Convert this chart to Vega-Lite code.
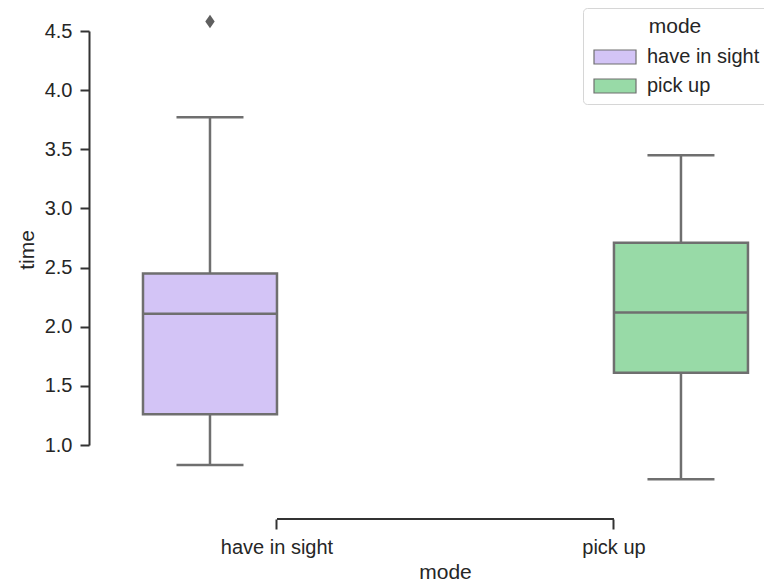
{
  "$schema": "https://vega.github.io/schema/vega-lite/v6.json",
  "autosize": {"type": "none"},
  "padding": {"left": 89, "top": 0, "right": 0, "bottom": 67},
  "width": 675,
  "height": 519,
  "background": "white",
  "config": {
    "font": "Liberation Sans",
    "view": {"stroke": null},
    "axis": {
      "labelFont": "Liberation Sans",
      "titleFont": "Liberation Sans",
      "labelColor": "#262626",
      "titleColor": "#262626",
      "domainColor": "#333333",
      "tickColor": "#333333",
      "domainWidth": 2,
      "tickWidth": 2,
      "grid": false,
      "labelFontSize": 20,
      "titleFontSize": 21,
      "titleFontWeight": "normal"
    },
    "legend": {
      "orient": "none",
      "legendX": 494,
      "legendY": 8,
      "padding": 8,
      "strokeColor": "#d6d6d6",
      "cornerRadius": 4,
      "fillColor": "rgba(255,255,255,0.85)",
      "titleFont": "Liberation Sans",
      "labelFont": "Liberation Sans",
      "titleFontSize": 21,
      "titleFontWeight": "normal",
      "titleColor": "#262626",
      "labelColor": "#262626",
      "labelFontSize": 20,
      "titleAnchor": "middle",
      "titlePadding": 10,
      "rowPadding": 9,
      "symbolType": "M-1,-1H5V1H-1Z",
      "symbolSize": 196,
      "symbolStrokeColor": "#6f6f6f",
      "symbolStrokeWidth": 1.2,
      "symbolOpacity": 1,
      "labelOffset": 36
    }
  },
  "datasets": {
    "boxes": [
      {"mode": "have in sight", "lower": 0.83, "q1": 1.26, "median": 2.11, "q3": 2.45, "upper": 3.77},
      {"mode": "pick up", "lower": 0.71, "q1": 1.61, "median": 2.12, "q3": 2.71, "upper": 3.45}
    ],
    "fliers": [
      {"mode": "have in sight", "time": 4.58}
    ],
    "categories": [
      {"mode": "have in sight"},
      {"mode": "pick up"}
    ]
  },
  "layer": [
    {
      "data": {"name": "boxes"},
      "mark": {"type": "rule", "color": "#6f6f6f", "strokeWidth": 2.5},
      "encoding": {
        "x": {
          "field": "mode",
          "type": "nominal",
          "title": "mode",
          "scale": {"domain": ["have in sight", "pick up"], "paddingInner": 0.2047, "paddingOuter": 0.1039, "align": 0.771},
          "axis": {
            "domain": false,
            "labelAngle": 0,
            "tickSize": 10,
            "labelPadding": 8,
            "titleX": 356,
            "titleY": 59,
            "titleBaseline": "alphabetic",
            "titleAlign": "center",
            "titleAnchor": null
          }
        },
        "xOffset": {"field": "mode", "type": "nominal", "scale": {"domain": ["have in sight", "pick up"], "paddingInner": 0, "paddingOuter": 0}},
        "y": {
          "field": "lower",
          "type": "quantitative",
          "title": "time",
          "scale": {"domain": [1, 4.5], "range": [445, 31], "nice": false, "zero": false},
          "axis": {
            "values": [1, 1.5, 2, 2.5, 3, 3.5, 4, 4.5],
            "format": ".1f",
            "tickSize": 9,
            "labelPadding": 8,
            "titleAngle": -90,
            "titleX": -56,
            "titleY": 249.5,
            "titleBaseline": "alphabetic",
            "titleAlign": "center",
            "titleAnchor": null
          }
        },
        "y2": {"field": "q1", "title": "time"}
      }
    },
    {
      "data": {"name": "boxes"},
      "mark": {"type": "rule", "color": "#6f6f6f", "strokeWidth": 2.5},
      "encoding": {
        "x": {"field": "mode", "type": "nominal", "title": "mode"},
        "xOffset": {"field": "mode", "type": "nominal"},
        "y": {"field": "q3", "type": "quantitative", "title": "time"},
        "y2": {"field": "upper", "title": "time"}
      }
    },
    {
      "data": {"name": "boxes"},
      "mark": {"type": "bar", "stroke": "#6f6f6f", "strokeWidth": 2.5, "opacity": 1},
      "encoding": {
        "x": {"field": "mode", "type": "nominal", "title": "mode"},
        "xOffset": {"field": "mode", "type": "nominal"},
        "y": {"field": "q1", "type": "quantitative", "title": "time"},
        "y2": {"field": "q3", "title": "time"},
        "fill": {
          "field": "mode",
          "type": "nominal",
          "title": "mode",
          "scale": {"domain": ["have in sight", "pick up"], "range": ["#d3c4f6", "#98daa7"]}
        }
      }
    },
    {
      "data": {"name": "boxes"},
      "mark": {"type": "tick", "orient": "horizontal", "color": "#6f6f6f", "size": 134, "thickness": 2.5, "opacity": 1},
      "encoding": {
        "x": {"field": "mode", "type": "nominal", "title": "mode"},
        "xOffset": {"field": "mode", "type": "nominal"},
        "y": {"field": "median", "type": "quantitative", "title": "time"}
      }
    },
    {
      "data": {"name": "boxes"},
      "mark": {"type": "tick", "orient": "horizontal", "color": "#6f6f6f", "size": 67, "thickness": 2.5, "opacity": 1},
      "encoding": {
        "x": {"field": "mode", "type": "nominal", "title": "mode"},
        "xOffset": {"field": "mode", "type": "nominal"},
        "y": {"field": "lower", "type": "quantitative", "title": "time"}
      }
    },
    {
      "data": {"name": "boxes"},
      "mark": {"type": "tick", "orient": "horizontal", "color": "#6f6f6f", "size": 67, "thickness": 2.5, "opacity": 1},
      "encoding": {
        "x": {"field": "mode", "type": "nominal", "title": "mode"},
        "xOffset": {"field": "mode", "type": "nominal"},
        "y": {"field": "upper", "type": "quantitative", "title": "time"}
      }
    },
    {
      "data": {"name": "fliers"},
      "mark": {"type": "point", "shape": "M0,-1L0.7,0L0,1L-0.7,0Z", "filled": true, "color": "#5f5f5f", "size": 180, "opacity": 1},
      "encoding": {
        "x": {"field": "mode", "type": "nominal", "title": "mode"},
        "xOffset": {"field": "mode", "type": "nominal"},
        "y": {"field": "time", "type": "quantitative", "title": "time"}
      }
    },
    {
      "data": {"name": "categories"},
      "mark": {"type": "line", "color": "#333333", "strokeWidth": 2},
      "encoding": {
        "x": {"field": "mode", "type": "nominal", "title": "mode"},
        "y": {"value": "height"}
      }
    }
  ]
}
